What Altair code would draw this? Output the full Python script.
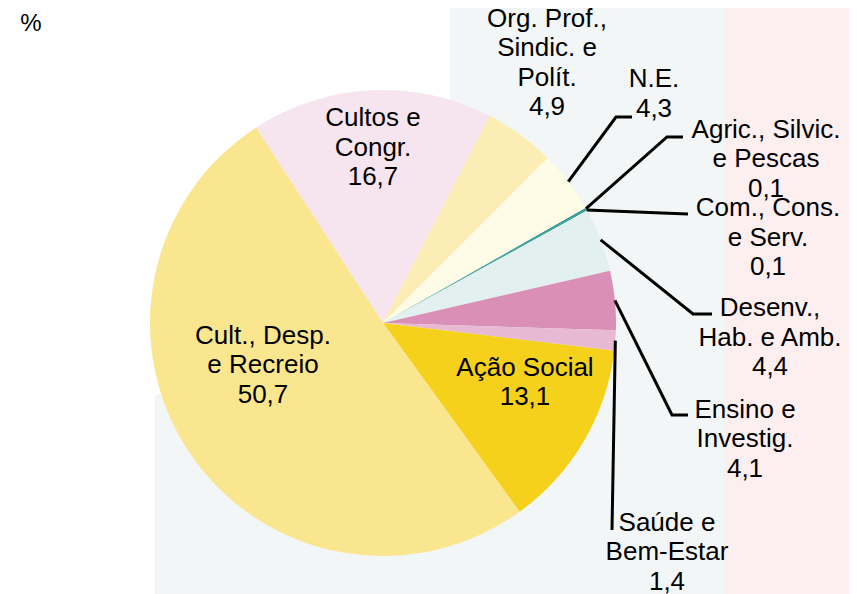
import math
import altair as alt
import pandas as pd

# ---- data ----
categories = ["Cultos e\nCongr.", "Org. Prof.,\nSindic. e\nPolít.", "N.E.",
              "Agric., Silvic.\ne Pescas", "Com., Cons.\ne Serv.",
              "Desenv.,\nHab. e Amb.", "Ensino e\nInvestig.", "Saúde e\nBem-Estar",
              "Ação Social", "Cult., Desp.\ne Recreio"]
values = [16.7, 4.9, 4.3, 0.1, 0.1, 4.4, 4.1, 1.4, 13.1, 50.7]

# ---- styles / layout ----
colors = ["#F6E5EE", "#FBEDB3", "#FEFBE6", "#1E8C88", "#2A9A92",
          "#E3F0F0", "#D98FB6", "#E8B9D2", "#F5D11C", "#F9E68E"]
# label block centre offsets from the pie centre (pixels)
label_dx = [-10, 164, 271, 383, 385, 387, 362, 284, 142, -120]
label_dy = [-175.5, -260, -229, -164, -85.5, 14.5, 116, 229, 59.5, 42]
LH = 29.5
# leader elbows / ends (offsets from pie centre)
leader_pts = {
    2: [(233, -206), (249, -206)],
    3: [(284, -186), (300, -186)],
    4: [(279, -110), (305, -109)],
    5: [(310, -9), (329, -9)],
    6: [(289, 92), (305, 92)],
    7: [(229, 207)],
}
R = 233
W, H = 750, 526
CX, CY = W / 2, H / 2
start = math.radians(-33.0)

total = sum(values)
df = pd.DataFrame({"cat": categories, "value": values, "ord": list(range(len(values)))})

pie = alt.Chart(df).mark_arc(radius=R, stroke=None).encode(
    theta=alt.Theta("value:Q", stack=True,
                    scale=alt.Scale(range=[start, start + 2 * math.pi])),
    color=alt.Color("cat:N", scale=alt.Scale(domain=categories, range=colors), legend=None),
    order=alt.Order("ord:Q"),
)

# labels (text block centred on given point; y is for the first line)
lab_text = [c + "\n" + f"{v:.1f}".replace(".", ",") for c, v in zip(categories, values)]
n_lines = [t.count("\n") + 1 for t in lab_text]
lab_df = pd.DataFrame({
    "t": lab_text,
    "x": [CX + d for d in label_dx],
    "y": [CY + d - (n - 1) * LH / 2 for d, n in zip(label_dy, n_lines)],
})
labels = alt.Chart(lab_df).mark_text(
    font="Liberation Sans", fontSize=26, lineHeight=LH, lineBreak="\n",
    align="center", baseline="middle", color="black"
).encode(
    x=alt.X("x:Q", scale=None, axis=None),
    y=alt.Y("y:Q", scale=None, axis=None),
    text="t:N",
)

# leader lines: start on pie edge at slice mid-angle
rows = []
cum = 0.0
for i, v in enumerate(values):
    mid = cum + v / 2
    cum += v
    if i in leader_pts:
        a = start + 2 * math.pi * mid / total
        pts = [(R * math.sin(a), -R * math.cos(a))] + leader_pts[i]
        for s, (px, py) in enumerate(pts):
            rows.append({"cat": categories[i], "seq": s, "x": CX + px, "y": CY + py})
lead_df = pd.DataFrame(rows)
leaders = alt.Chart(lead_df).mark_line(color="black", strokeWidth=3, strokeJoin="miter").encode(
    x=alt.X("x:Q", scale=None, axis=None),
    y=alt.Y("y:Q", scale=None, axis=None),
    detail="cat:N",
    order=alt.Order("seq:Q"),
)

unit_df = pd.DataFrame({"t": ["%"], "x": [CX - 352], "y": [CY - 299]})
unit = alt.Chart(unit_df).mark_text(
    font="Liberation Sans", fontSize=24, align="center", baseline="middle", color="black"
).encode(
    x=alt.X("x:Q", scale=None, axis=None),
    y=alt.Y("y:Q", scale=None, axis=None),
    text="t:N",
)

# faint background panels
bg_df = pd.DataFrame({
    "x": [442, 147, 717], "x2": [717, 717, 849],
    "y": [-60, 335, -60], "y2": [335, 534, 534],
    "c": ["#F2F6F6", "#F2F6F6", "#FDEFF0"],
})
bg = alt.Chart(bg_df).mark_rect().encode(
    x=alt.X("x:Q", scale=None, axis=None), x2="x2:Q",
    y=alt.Y("y:Q", scale=None, axis=None), y2="y2:Q",
    color=alt.Color("c:N", scale=None),
)

chart = alt.layer(bg, pie, leaders, labels, unit).properties(
    width=W, height=H,
    padding={"left": 0, "top": 52, "right": 91, "bottom": 8},
    autosize=alt.AutoSizeParams(type="none"),
    background="white",
).configure_view(strokeWidth=0).resolve_scale(color="independent")

chart.save("out.html", embed_options={"renderer": "svg", "actions": False})
